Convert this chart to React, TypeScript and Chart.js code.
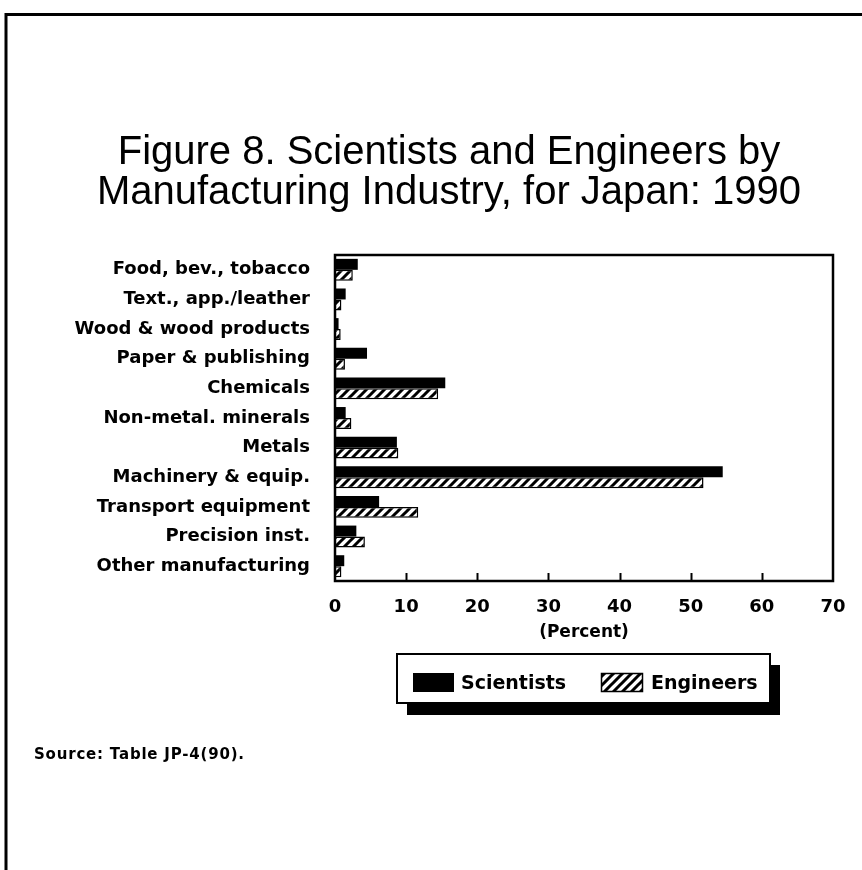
import React, { useEffect, useRef } from "react";
import { Chart, registerables } from "chart.js";
Chart.register(...registerables);

const categories = [
  "Food, bev., tobacco",
  "Text., app./leather",
  "Wood & wood products",
  "Paper & publishing",
  "Chemicals",
  "Non-metal. minerals",
  "Metals",
  "Machinery & equip.",
  "Transport equipment",
  "Precision inst.",
  "Other manufacturing",
];
const scientists = [3.2, 1.5, 0.5, 4.5, 15.5, 1.5, 8.7, 54.5, 6.2, 3.0, 1.3];
const engineers = [2.5, 0.9, 0.8, 1.4, 14.5, 2.3, 8.9, 51.8, 11.7, 4.2, 0.9];
const xMin = 0;
const xMax = 70;
const xStep = 10;
const titleLines = [
  "Figure 8. Scientists and Engineers by",
  "Manufacturing Industry, for Japan: 1990",
];
const axisTitle = "(Percent)";
const seriesNames = ["Scientists", "Engineers"];
const sourceText = "Source: Table JP-4(90).";

const BOLD = "'DejaVu Sans', sans-serif";

function makeHatch(ctx: CanvasRenderingContext2D) {
  const s = 9;
  const c = document.createElement("canvas");
  c.width = s;
  c.height = s;
  const g = c.getContext("2d")!;
  g.fillStyle = "#fff";
  g.fillRect(0, 0, s, s);
  g.strokeStyle = "#000";
  g.lineWidth = 3;
  g.beginPath();
  g.moveTo(-2, s + 2);
  g.lineTo(s + 2, -2);
  g.moveTo(-3, 3);
  g.lineTo(3, -3);
  g.moveTo(s - 3, s + 3);
  g.lineTo(s + 3, s - 3);
  g.stroke();
  return ctx.createPattern(c, "repeat")!;
}

export default function App() {
  const ref = useRef<HTMLCanvasElement | null>(null);
  useEffect(() => {
    const canvas = ref.current!;
    const ctx = canvas.getContext("2d")!;
    const hatch = makeHatch(ctx);

    const decor = {
      id: "decor",
      afterDraw(chart: any) {
        const c = chart.ctx as CanvasRenderingContext2D;
        const a = chart.chartArea;
        const xs = chart.scales.x;
        c.save();
        // outer frame
        c.strokeStyle = "#000";
        c.lineWidth = 3;
        c.beginPath();
        c.moveTo(6, 870);
        c.lineTo(6, 14.5);
        c.lineTo(862, 14.5);
        c.stroke();
        // plot border
        c.lineWidth = 2.5;
        c.strokeRect(a.left, a.top, a.right - a.left, a.bottom - a.top);
        // inner ticks
        c.lineWidth = 2;
        for (let v = xMin + xStep; v < xMax; v += xStep) {
          const px = Math.round(xs.getPixelForValue(v)) + 0.5;
          c.beginPath();
          c.moveTo(px, a.bottom);
          c.lineTo(px, a.bottom - 8);
          c.stroke();
        }
        // title
        c.fillStyle = "#000";
        c.font = "40px 'Liberation Sans', Arial, sans-serif";
        c.textAlign = "center";
        c.textBaseline = "alphabetic";
        c.fillText(titleLines[0], 449, 164);
        c.fillText(titleLines[1], 449, 204);
        // legend
        const lx = 397, ly = 654, lw = 373, lh = 49;
        c.fillRect(lx + 10, ly + 11, lw, lh + 1);
        c.fillStyle = "#fff";
        c.fillRect(lx, ly, lw, lh);
        c.lineWidth = 2;
        c.strokeRect(lx, ly, lw, lh);
        c.fillStyle = "#000";
        c.fillRect(413, 673, 41, 19);
        c.fillStyle = hatch;
        c.fillRect(601, 673, 42, 19);
        c.lineWidth = 1.5;
        c.strokeRect(601.5, 673.5, 41, 18);
        c.fillStyle = "#000";
        c.font = "bold 19px " + BOLD;
        c.textAlign = "left";
        c.textBaseline = "middle";
        c.fillText(seriesNames[0], 461, 684);
        c.fillText(seriesNames[1], 651, 684);
        // source
        c.font = "bold 15px " + BOLD;
        (c as any).letterSpacing = "0.8px";
        c.fillText(sourceText, 34, 755);
        (c as any).letterSpacing = "0px";
        c.restore();
      },
    };

    const chart = new Chart(canvas, {
      type: "bar",
      data: {
        labels: categories,
        datasets: [
          {
            label: seriesNames[0],
            data: scientists,
            backgroundColor: "#000",
            borderColor: "#000",
            borderWidth: 0,
          },
          {
            label: seriesNames[1],
            data: engineers,
            backgroundColor: hatch as any,
            borderColor: "#000",
            borderWidth: 1.5,
          },
        ],
      },
      options: {
        indexAxis: "y",
        responsive: false,
        animation: false,
        devicePixelRatio: 1,
        datasets: { bar: { categoryPercentage: 0.74, barPercentage: 1.0 } },
        layout: { padding: { left: 10, right: 29, top: 255, bottom: 227 } },
        plugins: {
          legend: { display: false },
          title: { display: false },
          tooltip: { enabled: false },
        },
        scales: {
          x: {
            min: xMin,
            max: xMax,
            grid: { display: false },
            border: { display: false },
            ticks: {
              stepSize: xStep,
              color: "#000",
              padding: 8,
              maxRotation: 0,
              font: { family: BOLD, weight: "bold", size: 18 },
            },
            title: {
              display: true,
              text: axisTitle,
              color: "#000",
              padding: { top: 0, bottom: 0 },
              font: { family: BOLD, weight: "bold", size: 17 },
            },
            afterFit: (s: any) => {
              s.height = 62;
            },
          },
          y: {
            grid: { display: false },
            border: { display: false },
            ticks: {
              color: "#000",
              padding: 17,
              autoSkip: false,
              font: { family: BOLD, weight: "bold", size: 18 },
            },
            afterFit: (s: any) => {
              s.width = 325;
            },
          },
        },
      },
      plugins: [decor],
    } as any);
    return () => chart.destroy();
  }, []);

  return (
    <div style={{ position: "absolute", left: 0, top: 0, width: 862, height: 870, background: "#fff" }}>
      <canvas ref={ref} width={862} height={870} style={{ display: "block", width: 862, height: 870 }} />
    </div>
  );
}
